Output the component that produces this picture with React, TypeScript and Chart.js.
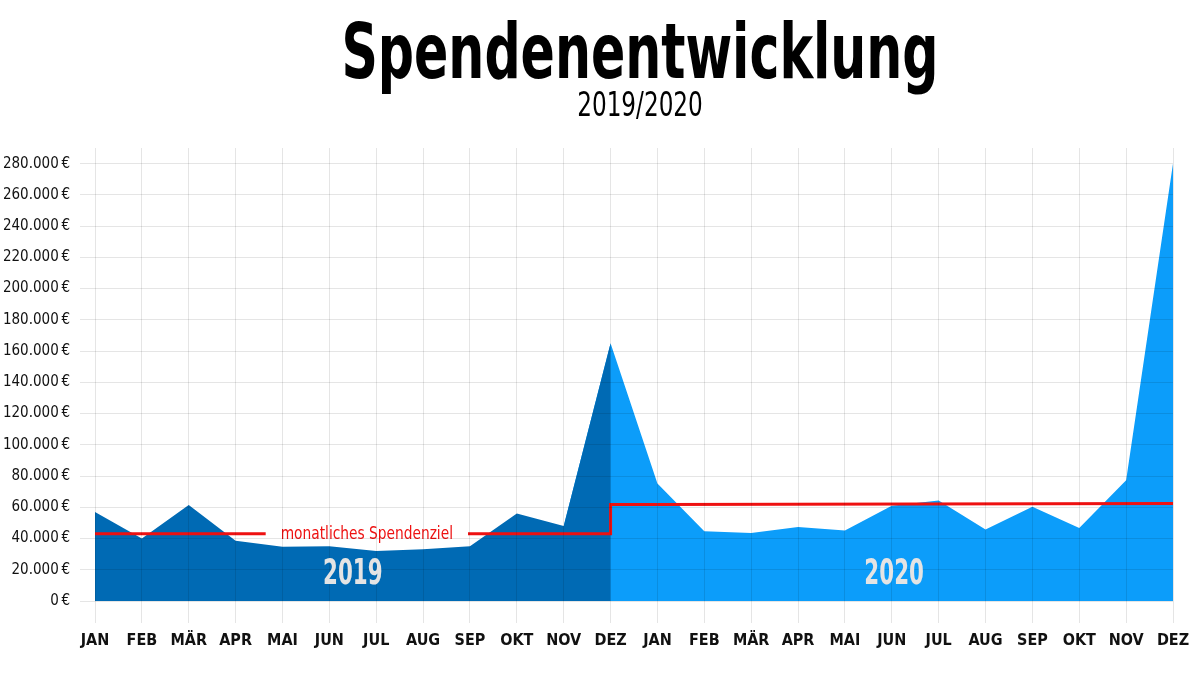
import React, { useEffect, useRef } from "react";
import { Chart, registerables } from "chart.js";

Chart.register(...registerables);

const months = [
  "JAN", "FEB", "MÄR", "APR", "MAI", "JUN", "JUL", "AUG", "SEP", "OKT", "NOV", "DEZ",
  "JAN", "FEB", "MÄR", "APR", "MAI", "JUN", "JUL", "AUG", "SEP", "OKT", "NOV", "DEZ",
];

const donations2019 = [
  57000, 40000, 61500, 38500, 34700, 35000, 32000, 33200, 35000, 56000, 48000, 165000,
  null, null, null, null, null, null, null, null, null, null, null, null,
];

// 2020 area starts from the Dec 2019 peak; the Nov 2019 point lies hidden under the 2019 area
// so the two fills meet without an anti-aliasing seam.
const donations2020 = [
  null, null, null, null, null, null, null, null, null, null, 48000, 165000,
  75200, 44700, 43500, 47300, 45200, 60900, 64400, 45800, 60300, 46700, 77300, 280000,
];

const goal2019 = [
  43000, 43000, 43000, 43000, 43000, 43000, 43000, 43000, 43000, 43000, 43000, 43000,
  61800, null, null, null, null, null, null, null, null, null, null, null,
];

const goal2020 = [
  null, null, null, null, null, null, null, null, null, null, null, null,
  61800, null, null, null, null, null, null, null, null, null, null, 62400,
];

const goalLabel = "monatliches Spendenziel";
const yearLabels = ["2019", "2020"];
const yTicks = [0, 20000, 40000, 60000, 80000, 100000, 120000, 140000, 160000, 180000, 200000, 220000, 240000, 260000, 280000];

const titleText = "Spendenentwicklung";
const subtitleText = "2019/2020";

const COND = "'DejaVu Sans Condensed', 'Liberation Sans Narrow', sans-serif";

const fmt = (v: number) => String(v).replace(/\B(?=(\d{3})+(?!\d))/g, ".") + "\u202F€";

const GOAL_LABEL_POS = 5.8;
const YEAR_LABEL_POS = [5.5, 17.05];
const YEAR_LABEL_VALUE = 16500;
const RED = "#ee1111";

function drawScaledText(ctx: any, text: string, x: number, y: number, font: string, sx: number, color: string, baseline: string) {
  ctx.save();
  ctx.font = font;
  ctx.fillStyle = color;
  ctx.textAlign = "center";
  ctx.textBaseline = baseline;
  ctx.translate(x, y);
  ctx.scale(sx, 1);
  ctx.fillText(text, 0, 0);
  ctx.restore();
}

const GOAL_FONT = `17px ${COND}`;
const GOAL_SX = 0.9;

const annotations = {
  id: "annotations",
  beforeDatasetDraw(chart: any, args: any) {
    if (args.index !== 0) return;
    const { ctx, scales } = chart;
    const x = scales.x, y = scales.y;
    ctx.save();
    ctx.font = GOAL_FONT;
    const w = ctx.measureText(goalLabel).width * GOAL_SX;
    const cx = x.getPixelForValue(GOAL_LABEL_POS);
    const gy = y.getPixelForValue(goal2019[0]);
    ctx.beginPath();
    ctx.rect(0, 0, chart.width, chart.height);
    ctx.rect(cx - w / 2 - 15, gy - 12, w + 30, 24);
    ctx.clip("evenodd");
  },
  afterDatasetDraw(chart: any, args: any) {
    if (args.index !== 0) return;
    const { ctx, scales } = chart;
    ctx.restore();
    const x = scales.x, y = scales.y;
    drawScaledText(ctx, goalLabel, x.getPixelForValue(GOAL_LABEL_POS), y.getPixelForValue(goal2019[0]) + 1, GOAL_FONT, GOAL_SX, RED, "middle");
  },
  afterDraw(chart: any) {
    const { ctx, scales } = chart;
    const x = scales.x, y = scales.y;
    yearLabels.forEach((t, i) => {
      drawScaledText(ctx, t, x.getPixelForValue(YEAR_LABEL_POS[i]), y.getPixelForValue(YEAR_LABEL_VALUE), `bold 35px ${COND}`, 0.68, "#e4e4e4", "middle");
    });
    drawScaledText(ctx, titleText, 640, 78, `bold 77px ${COND}`, 0.73, "#000", "alphabetic");
    drawScaledText(ctx, subtitleText, 640, 116, `33px ${COND}`, 0.78, "#000", "alphabetic");
  },
};

export default function App() {
  const ref = useRef<HTMLCanvasElement>(null);
  useEffect(() => {
    if (!ref.current) return;
    const chart = new Chart(ref.current, {
      type: "line",
      data: {
        labels: months,
        datasets: [
          {
            data: goal2019,
            borderColor: RED,
            borderWidth: 3,
            stepped: "after",
            pointRadius: 0,
            fill: false,
          },
          {
            data: goal2020,
            borderColor: RED,
            borderWidth: 3,
            pointRadius: 0,
            fill: false,
            spanGaps: true,
          },
          {
            data: donations2019,
            borderWidth: 0,
            borderColor: "rgba(0,0,0,0)",
            backgroundColor: "#006ab4",
            fill: "origin",
            pointRadius: 0,
            tension: 0,
            spanGaps: false,
          },
          {
            data: donations2020,
            borderWidth: 0,
            borderColor: "rgba(0,0,0,0)",
            backgroundColor: "#0c9dfa",
            fill: "origin",
            pointRadius: 0,
            tension: 0,
            spanGaps: false,
          },
        ],
      },
      options: {
        responsive: false,
        animation: false,
        layout: { padding: { left: 0, right: 27, top: 148, bottom: 0 } },
        plugins: {
          legend: { display: false },
          tooltip: { enabled: false },
          title: { display: false },
          subtitle: { display: false },
        },
        scales: {
          x: {
            offset: false,
            grid: { color: "rgba(0,0,0,0.1)", lineWidth: 1, tickLength: 22, z: 1, drawOnChartArea: true },
            border: { display: false },
            ticks: {
              color: "#111",
              font: { family: COND, size: 16, weight: "bold" },
              padding: 8,
              maxRotation: 0,
              autoSkip: false,
            },
            afterFit(scale: any) {
              scale.height = 74;
            },
          },
          y: {
            min: 0,
            max: 290000,
            grid: { color: "rgba(0,0,0,0.1)", lineWidth: 1, tickLength: 15, z: 1 },
            border: { display: false },
            afterBuildTicks(scale: any) {
              scale.ticks = yTicks.map((v) => ({ value: v }));
            },
            ticks: {
              color: "#111",
              font: { family: COND, size: 15 },
              padding: 10,
              callback: (v: any) => fmt(Number(v)),
            },
            afterFit(scale: any) {
              scale.width = 95;
            },
          },
        },
      },
      plugins: [annotations],
    });
    return () => chart.destroy();
  }, []);
  return (
    <div style={{ position: "fixed", left: 0, top: 0, width: 1200, height: 675, background: "#fff" }}>
      <canvas ref={ref} width={1200} height={675} />
    </div>
  );
}
